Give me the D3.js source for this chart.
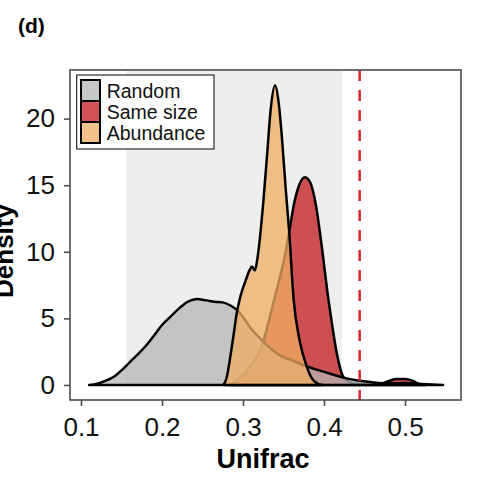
<!DOCTYPE html>
<html>
<head>
<meta charset="utf-8">
<script src="https://cdn.jsdelivr.net/npm/d3@7"></script>
<style>
  body { margin: 0; background: #fff; }
  svg { display: block; font-family: "Liberation Sans", Arial, sans-serif; }
</style>
</head>
<body>
<div id="chart"></div>
<script>
// density estimates: [unifrac, density]
var seriesNames = ['Random', 'Same size', 'Abundance'];
var seriesFills = ['#b6b6b4', '#c1191f', '#efad63'];

var randomDensity = [
  [0.110, 0], [0.120, 0.1], [0.130, 0.3], [0.140, 0.6], [0.150, 1.1], [0.160, 1.7],
  [0.170, 2.3], [0.181, 3.0], [0.190, 3.7], [0.200, 4.5], [0.210, 5.1], [0.222, 5.8],
  [0.232, 6.25], [0.243, 6.45], [0.255, 6.35], [0.265, 6.25], [0.275, 6.2], [0.285, 5.95],
  [0.293, 5.6], [0.300, 5.1], [0.309, 4.3], [0.321, 3.5], [0.333, 2.8], [0.346, 2.2],
  [0.358, 1.9], [0.3785, 1.4], [0.399, 1.0], [0.424, 0.55], [0.440, 0.35], [0.460, 0.2],
  [0.480, 0.12], [0.500, 0.15], [0.520, 0.08], [0.547, 0]
];
var sameSizeDensity = [
  [0.285, 0], [0.295, 0.5], [0.309, 1.4], [0.323, 2.9], [0.3385, 6.4], [0.346, 8.2],
  [0.352, 9.8], [0.357, 11.5], [0.363, 13.6], [0.370, 15.1], [0.3765, 15.6], [0.383, 15.2],
  [0.390, 13.5], [0.397, 10.5], [0.405, 6.6], [0.410, 4.5], [0.416, 2.3], [0.423, 0.7],
  [0.430, 0.25], [0.440, 0.1], [0.455, 0.05], [0.470, 0.1], [0.480, 0.3], [0.490, 0.45],
  [0.500, 0.45], [0.510, 0.3], [0.518, 0.05], [0.525, 0]
];
var abundanceDensity = [
  [0.276, 0], [0.280, 0.6], [0.284, 2.0], [0.288, 3.6], [0.292, 5.3], [0.297, 6.7],
  [0.303, 7.8], [0.308, 8.6], [0.311, 8.9], [0.3147, 8.6], [0.318, 9.6], [0.325, 13.7],
  [0.330, 17.5], [0.334, 20.6], [0.3395, 22.5], [0.344, 21.2], [0.348, 18.6], [0.353, 14.5],
  [0.357, 11.5], [0.3625, 6.4], [0.370, 3.3], [0.3786, 1.4], [0.385, 0.5], [0.392, 0.1],
  [0.398, 0]
];
// drawing order seen in the figure: Same size, then Random, then Abundance on top
var drawOrder = ['Same size', 'Random', 'Abundance'];

var xTicks = [0.1, 0.2, 0.3, 0.4, 0.5];
var yTicks = [0, 5, 10, 15, 20];
var nullRange = [0.156, 0.422];
var observedUnifrac = 0.444;

(function() {
  var width = 477, height = 481;
  var left = 70, right = 461, top = 70, bottom = 400;
  var densities = {
    'Random': randomDensity,
    'Same size': sameSizeDensity,
    'Abundance': abundanceDensity
  };
  var fill = d3.scaleOrdinal().domain(seriesNames).range(seriesFills);

  var x = d3.scaleLinear().domain([0.0864, 0.5691]).range([left, right]);
  var y = d3.scaleLinear().domain([-1.13, 23.65]).range([bottom, top]);

  var svg = d3.select('#chart').append('svg')
    .attr('width', width).attr('height', height);

  svg.append('text')
    .attr('x', 18).attr('y', 33)
    .attr('font-size', 21).attr('font-weight', 'bold')
    .text('(d)');

  // shaded null range
  svg.append('rect')
    .attr('x', x(nullRange[0])).attr('y', top)
    .attr('width', x(nullRange[1]) - x(nullRange[0]))
    .attr('height', y(0) - top)
    .attr('fill', '#eeeeec');

  var area = d3.area()
    .x(function(d) { return x(d[0]); })
    .y0(y(0))
    .y1(function(d) { return y(d[1]); })
    .curve(d3.curveMonotoneX);

  svg.append('g').selectAll('path')
    .data(drawOrder).enter().append('path')
    .attr('d', function(name) { return area(densities[name]) + 'Z'; })
    .attr('fill', function(name) { return fill(name); })
    .attr('fill-opacity', 0.75)
    .attr('stroke', '#000')
    .attr('stroke-width', 2.5)
    .attr('stroke-linejoin', 'round');

  svg.append('line')
    .attr('x1', x(observedUnifrac)).attr('x2', x(observedUnifrac))
    .attr('y1', top).attr('y2', bottom)
    .attr('stroke', '#d8252d').attr('stroke-width', 2.5)
    .attr('stroke-dasharray', '11,9');

  svg.append('rect')
    .attr('x', left).attr('y', top)
    .attr('width', right - left).attr('height', bottom - top)
    .attr('fill', 'none').attr('stroke', '#4d4d4d').attr('stroke-width', 1.6);

  var xAxis = svg.append('g')
    .attr('transform', 'translate(0,' + bottom + ')')
    .call(d3.axisBottom(x).tickValues(xTicks).tickSize(6).tickPadding(12)
      .tickFormat(d3.format('.1f')));
  var yAxis = svg.append('g')
    .attr('transform', 'translate(' + left + ',0)')
    .call(d3.axisLeft(y).tickValues(yTicks).tickSize(6).tickPadding(9));

  [xAxis, yAxis].forEach(function(g) {
    g.select('.domain').remove();
    g.selectAll('.tick line').attr('stroke', '#4d4d4d').attr('stroke-width', 1.6);
    g.selectAll('.tick text')
      .attr('fill', '#111')
      .attr('font-size', 26)
      .attr('font-family', '"Liberation Sans", Arial, sans-serif');
  });

  svg.append('text')
    .attr('x', 263).attr('y', 468)
    .attr('text-anchor', 'middle')
    .attr('font-size', 27).attr('font-weight', 'bold')
    .text('Unifrac');

  // the reference crops this title at the left edge
  svg.append('text')
    .attr('transform', 'translate(13,251) rotate(-90)')
    .attr('text-anchor', 'middle')
    .attr('font-size', 26).attr('font-weight', 'bold')
    .text('Density');

  // legend
  var legend = svg.append('g');
  legend.append('rect')
    .attr('x', 76.7).attr('y', 75)
    .attr('width', 137.3).attr('height', 74)
    .attr('fill', '#fff').attr('stroke', '#000').attr('stroke-width', 1);

  var rows = legend.selectAll('g.row')
    .data(seriesNames).enter().append('g')
    .attr('class', 'row')
    .attr('transform', function(d, i) { return 'translate(81,' + (80 + i * 21) + ')'; });
  rows.append('rect')
    .attr('width', 19).attr('height', 21)
    .attr('fill', function(d) { return fill(d); })
    .attr('fill-opacity', 0.75)
    .attr('stroke', '#000').attr('stroke-width', 2);
  rows.append('text')
    .attr('x', 25.7).attr('y', 17.5)
    .attr('font-size', 19.5)
    .attr('fill', '#111')
    .text(function(d) { return d; });
}).call(this);
</script>
</body>
</html>
